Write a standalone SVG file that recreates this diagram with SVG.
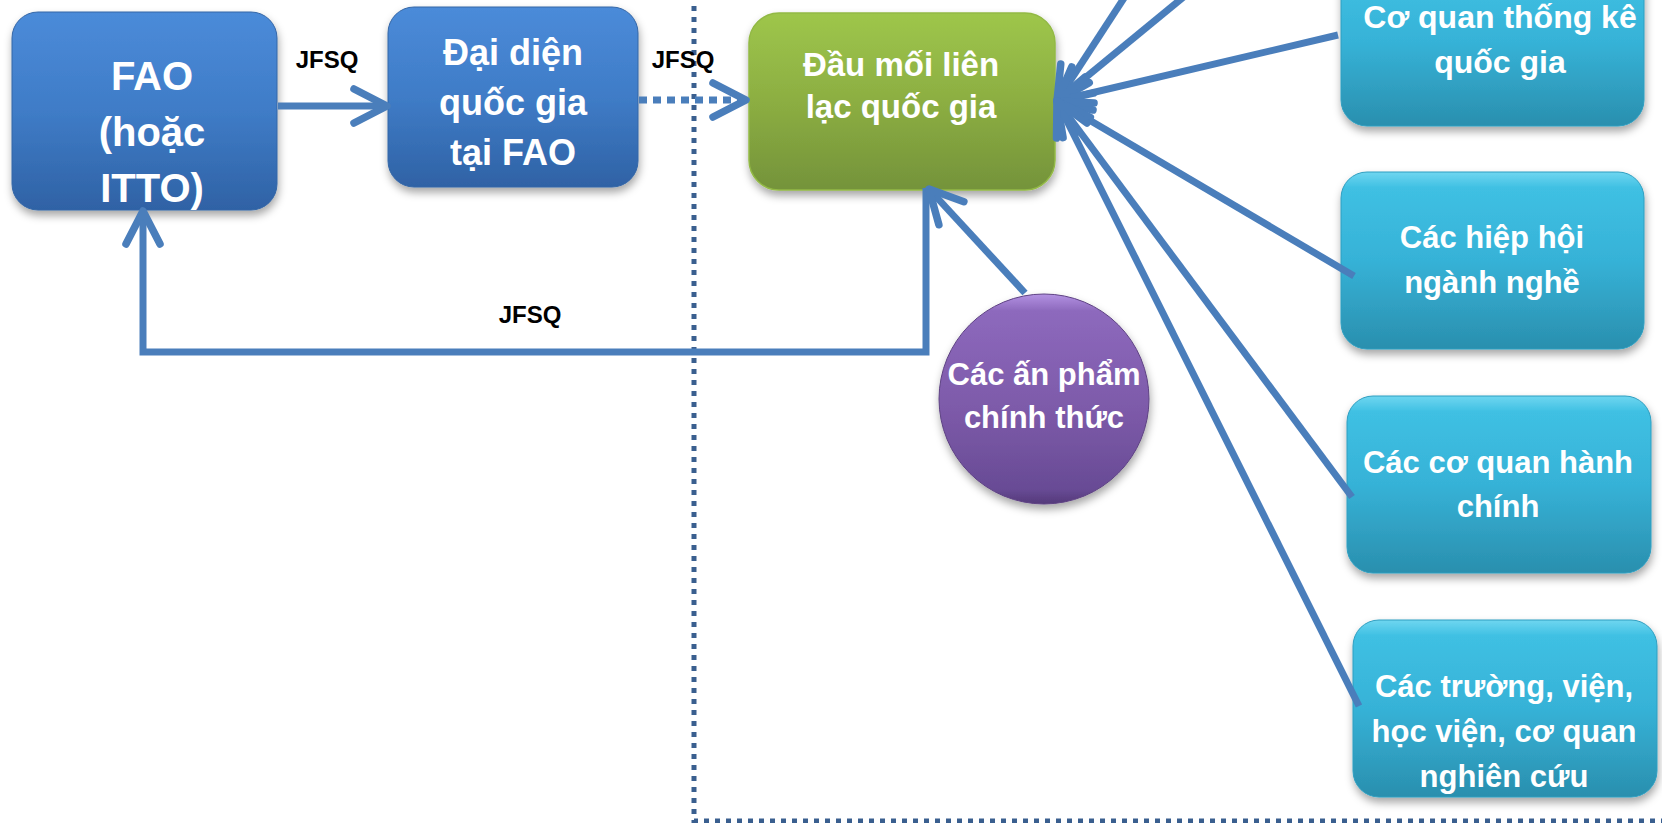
<svg xmlns="http://www.w3.org/2000/svg" width="1662" height="823" viewBox="0 0 1662 823">
<style>
.lbl{font-family:"Liberation Sans",Arial,sans-serif;font-weight:bold;fill:#ffffff;text-anchor:middle}
.jf{font-family:"Liberation Sans",Arial,sans-serif;font-weight:bold;fill:#000000;text-anchor:middle;font-size:24px}
.con{fill:none;stroke:#4a7ebb;stroke-width:7;marker-end:url(#chev)}
</style>
<defs>
<linearGradient id="gBlue" x1="0" y1="0" x2="0" y2="1">
<stop offset="0" stop-color="#4b8bd9"/><stop offset="0.5" stop-color="#3f7cc7"/><stop offset="1" stop-color="#2f62a5"/>
</linearGradient>
<linearGradient id="gGreen" x1="0" y1="0" x2="0" y2="1">
<stop offset="0" stop-color="#9ec64b"/><stop offset="0.5" stop-color="#8cae42"/><stop offset="1" stop-color="#74933a"/>
</linearGradient>
<linearGradient id="gCyan" x1="0" y1="0" x2="0" y2="1">
<stop offset="0" stop-color="#6fd6f0"/><stop offset="0.09" stop-color="#3fc0e3"/><stop offset="0.5" stop-color="#36b2d7"/><stop offset="1" stop-color="#2a8fae"/>
</linearGradient>
<linearGradient id="gPurple" x1="0" y1="0" x2="0" y2="1">
<stop offset="0" stop-color="#b392e2"/><stop offset="0.08" stop-color="#8d69bd"/><stop offset="0.55" stop-color="#7d5aa9"/><stop offset="0.93" stop-color="#684b95"/><stop offset="1" stop-color="#54397a"/>
</linearGradient>
<filter id="sh" x="-10%" y="-10%" width="125%" height="130%">
<feDropShadow dx="1" dy="5" stdDeviation="4" flood-color="#000" flood-opacity="0.35"/>
</filter>
<marker id="chev" markerUnits="userSpaceOnUse" viewBox="-45 -25 55 50" refX="0" refY="0" markerWidth="55" markerHeight="50" orient="auto" overflow="visible">
<path d="M-33,-17 L0,0 L-33,17" fill="none" stroke="#4a7ebb" stroke-width="7.5" stroke-linecap="round" stroke-linejoin="round"/>
</marker>
</defs>
<rect width="1662" height="823" fill="#ffffff"/>

<g id="boundary">
<path d="M694,-5 V821 H1670" fill="none" stroke="#3a5f8f" stroke-width="5" stroke-dasharray="5 6"/>
</g>

<g id="node-cqtk">
<rect x="1341" y="-40" width="303" height="166" rx="26" fill="url(#gCyan)" stroke="#2f9ec0" stroke-width="1" filter="url(#sh)"/>
<text class="lbl" font-size="32" x="1500" y="28">Cơ quan thống kê</text>
<text class="lbl" font-size="32" x="1500" y="73">quốc gia</text>
</g>
<g id="node-hiephoi">
<rect x="1341" y="172" width="303" height="177" rx="26" fill="url(#gCyan)" stroke="#2f9ec0" stroke-width="1" filter="url(#sh)"/>
<text class="lbl" font-size="31" x="1492" y="248">Các hiệp hội</text>
<text class="lbl" font-size="31" x="1492" y="293">ngành nghề</text>
</g>
<g id="node-hanhchinh">
<rect x="1347" y="396" width="304" height="177" rx="26" fill="url(#gCyan)" stroke="#2f9ec0" stroke-width="1" filter="url(#sh)"/>
<text class="lbl" font-size="31" x="1498" y="473">Các cơ quan hành</text>
<text class="lbl" font-size="31" x="1498" y="517">chính</text>
</g>
<g id="node-truong">
<rect x="1353" y="620" width="304" height="177" rx="26" fill="url(#gCyan)" stroke="#2f9ec0" stroke-width="1" filter="url(#sh)"/>
<text class="lbl" font-size="31" x="1504" y="697">Các trường, viện,</text>
<text class="lbl" font-size="31" x="1504" y="742">học viện, cơ quan</text>
<text class="lbl" font-size="31" x="1504" y="787">nghiên cứu</text>
</g>

<g id="node-fao">
<rect x="12" y="12" width="265" height="198" rx="26" fill="url(#gBlue)" stroke="#3466a6" stroke-width="1" filter="url(#sh)"/>
<text class="lbl" font-size="40" x="152" y="90">FAO</text>
<text class="lbl" font-size="40" x="152" y="146">(hoặc</text>
<text class="lbl" font-size="40" x="152" y="202">ITTO)</text>
</g>
<g id="node-daidien">
<rect x="388" y="7" width="250" height="180" rx="26" fill="url(#gBlue)" stroke="#3466a6" stroke-width="1" filter="url(#sh)"/>
<text class="lbl" font-size="36" x="513" y="65">Đại diện</text>
<text class="lbl" font-size="36" x="513" y="115">quốc gia</text>
<text class="lbl" font-size="36" x="513" y="165">tại FAO</text>
</g>
<g id="node-daumoi">
<rect x="749" y="13" width="306" height="177" rx="30" fill="url(#gGreen)" stroke="#92b945" stroke-width="1.5" filter="url(#sh)"/>
<text class="lbl" font-size="33" x="901" y="76">Đầu mối liên</text>
<text class="lbl" font-size="33" x="901" y="118">lạc quốc gia</text>
</g>
<g id="node-anpham">
<circle cx="1044" cy="399" r="105" fill="url(#gPurple)" stroke="#5e4283" stroke-width="1" filter="url(#sh)"/>
<text class="lbl" font-size="31" x="1044" y="385">Các ấn phẩm</text>
<text class="lbl" font-size="31" x="1044" y="428">chính thức</text>
</g>

<g id="connectors">
<path class="con" d="M278,106 L387,106"/>
<path class="con" d="M639,100 L746,100" stroke-dasharray="8 6"/>
<path class="con" d="M926,188 V352 H143 V211" stroke-linejoin="miter"/>
<path class="con" d="M1025,293 L929,189"/>
<path class="con" d="M1126,-5 L1057,101"/>
<path class="con" d="M1186,-5 L1057,101"/>
<path class="con" d="M1338,35 L1057,101"/>
<path class="con" d="M1354,276 L1057,101"/>
<path class="con" d="M1352,497 L1057,101"/>
<path class="con" d="M1359,706 L1057,101"/>
<text class="jf" x="327" y="68">JFSQ</text>
<text class="jf" x="683" y="68">JFSQ</text>
<text class="jf" x="530" y="323">JFSQ</text>
</g>
</svg>
